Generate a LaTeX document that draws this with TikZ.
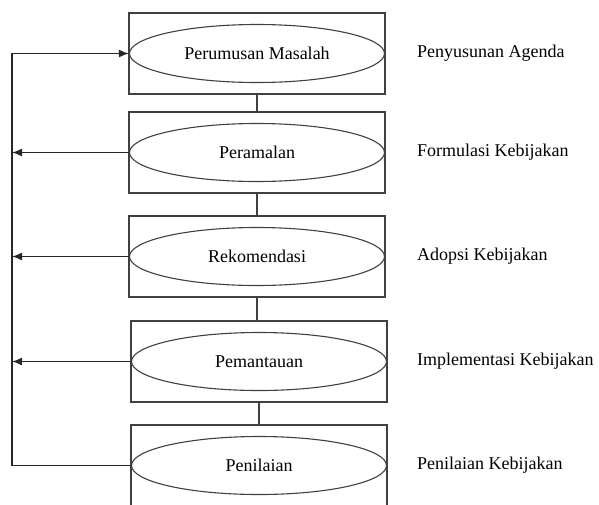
\documentclass[tikz,border=0pt]{standalone}
\usepackage{fontspec}
\setmainfont{Liberation Serif}
\usetikzlibrary{shapes.geometric,arrows.meta}
\begin{document}
\begin{tikzpicture}[x=1pt,y=-1pt,
		every node/.style={font=\fontsize{18}{20}\selectfont, text=black},
		box/.style={draw=black!75, line width=1.1pt, minimum width=256pt, minimum height=81pt, inner sep=0pt},
		proc/.style={draw=black!75, line width=1.1pt, ellipse, minimum width=255pt, minimum height=58pt, inner sep=0pt},
		stage/.style={anchor=west, inner sep=0pt},
		flow/.style={draw=black!85, line width=1.5pt}]
		\useasboundingbox (0,0) rectangle (599,504);
		\foreach \i/\x/\y/\txt/\stg in {1/257/53.5/Perumusan Masalah/Penyusunan Agenda,
				2/257/152.5/Peramalan/Formulasi Kebijakan,
				3/257/256.5/Rekomendasi/Adopsi Kebijakan,
				4/259/361.5/Pemantauan/Implementasi Kebijakan,
				5/259/465.5/Penilaian/Penilaian Kebijakan}{
				\node[box] (box\i) at (\x,\y) {};
				\node[proc] (elp\i) at (box\i) {\txt};
				\node[stage] (stage\i) at (417,\y) {\stg};
			};
		\foreach \i/\j in {1/2,2/3,3/4,4/5}
			\draw[draw=black!75, line width=1.1pt] (box\i.south) -- (box\i.south |- box\j.north);
		\coordinate (back) at (12,260);
		\draw[flow, -{Latex[length=10pt,width=8pt]}] (elp5.west) -| (back) |- (elp1.west);
		\foreach \i in {2,3,4}
			\draw[flow, -{Latex[length=10pt,width=8pt]}] (elp\i.west) -- (elp\i.west -| back);
	\end{tikzpicture}
\end{document}
